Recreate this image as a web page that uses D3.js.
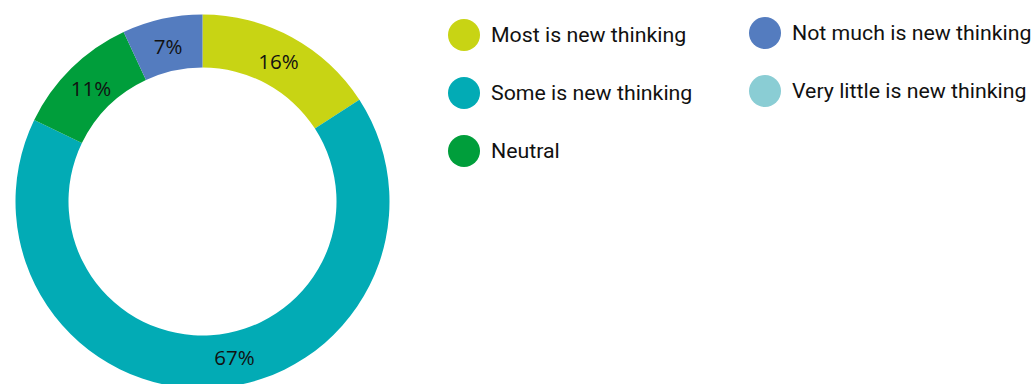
<!DOCTYPE html>
<html>
<head>
<meta charset="utf-8">
<script src="https://cdn.jsdelivr.net/npm/d3@7/dist/d3.min.js"></script>
<style>
  html, body { margin: 0; padding: 0; background: #ffffff; }
  svg { display: block; }
</style>
</head>
<body>
<svg id="chart" width="1032" height="384"></svg>
<script>
// Survey responses: how much of the material is new thinking
const categories = [
  "Most is new thinking",
  "Some is new thinking",
  "Neutral",
  "Not much is new thinking",
  "Very little is new thinking"
];
const values = [16, 67, 11, 7, 0];
const colors = ["#c8d414", "#02abb5", "#009e3b", "#547cbf", "#8acdd4"];

// Legend layout: two columns, filled top-to-bottom
const legendColumns = [[0, 1, 2], [3, 4]];

// Angular nudge (degrees) applied to individual slice labels
const labelNudge = { "Some is new thinking": -8 };

const svg = d3.select("#chart");
const cx = 202.5, cy = 201.5;
const outerR = 187, innerR = 134, labelR = 159;

const data = categories.map((c, i) => ({ name: c, value: values[i], color: colors[i] }));

const pie = d3.pie().value(d => d.value).sort(null);
const arc = d3.arc().innerRadius(innerR).outerRadius(outerR);

const arcs = pie(data);
const g = svg.append("g").attr("transform", `translate(${cx},${cy})`);

g.selectAll("path.slice")
  .data(arcs)
  .join("path")
  .attr("class", "slice")
  .attr("d", arc)
  .attr("fill", d => d.data.color);

// Percent labels in the ring
g.selectAll("text.pct")
  .data(arcs.filter(d => d.data.value > 0))
  .join("text")
  .attr("class", "pct")
  .attr("transform", d => {
    const mid = (d.startAngle + d.endAngle) / 2 + (labelNudge[d.data.name] || 0) * Math.PI / 180;
    return `translate(${Math.sin(mid) * labelR},${-Math.cos(mid) * labelR})`;
  })
  .attr("text-anchor", "middle")
  .attr("dy", "0.36em")
  .style("font-family", "'Open Sans', 'Noto Sans', sans-serif")
  .style("font-size", "20.5px")
  .attr("fill", "#111")
  .text(d => d.data.value + "%");

// Legend
const colX = [464, 765];
const rowY0 = [35, 33];
const rowStep = 58;
const legend = svg.append("g");
legendColumns.forEach((col, ci) => {
  col.forEach((idx, ri) => {
    const y = rowY0[ci] + ri * rowStep;
    const item = legend.append("g").attr("transform", `translate(${colX[ci]},${y})`);
    item.append("circle").attr("r", 16).attr("fill", colors[idx]);
    item.append("text")
      .attr("transform", "translate(27,7.3) scale(1.04,1)")
      .style("font-family", "Roboto, sans-serif")
      .style("font-size", "20.5px")
      .attr("fill", "#111")
      .text(categories[idx]);
  });
});
</script>
</body>
</html>
